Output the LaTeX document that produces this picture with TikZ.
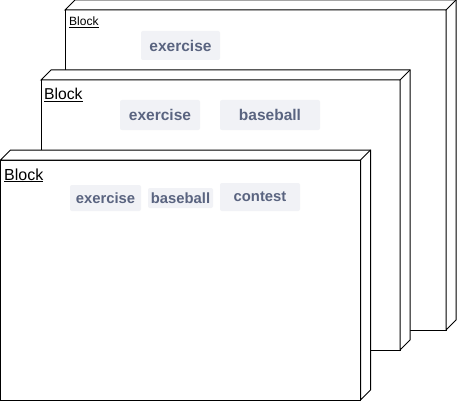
\documentclass[tikz,border=0pt]{standalone}
\usepackage{fontspec}
\setmainfont{Liberation Sans}
\usetikzlibrary{calc}

\definecolor{chipfill}{HTML}{F1F2F6}
\definecolor{chiptext}{HTML}{5A6480}

\tikzset{
  face/.style={draw=black, fill=white, line width=1pt, inner sep=0pt, outer sep=0pt, anchor=north west},
  rim/.style={draw=black, fill=white, line width=1pt, line join=miter},
  chip/.style={fill=chipfill, rounded corners=2pt, text=chiptext, inner sep=0pt,
               font=\bfseries\fontsize{15.5}{16}\selectfont},
  smallchip/.style={chip, font=\bfseries\fontsize{14.8}{16}\selectfont},
  title/.style={anchor=base west, inner sep=0pt, text=black},
}

% a block drawn as a box with depth: front face plus top and right faces
\newcommand\blockbox[5]{% name, x, y, width, height
  \node[face, minimum width=#4pt, minimum height=#5pt] (#1) at (#2,#3) {};
  \draw[rim] (#1.north west) -- ++(10,-10) -- ($(#1.north east)+(10,-10)$)
    -- ($(#1.south east)+(10,-10)$) -- (#1.south east) -- (#1.north east) -- cycle;
  \draw[line width=1pt] (#1.north east) -- ++(10,-10);
}

\begin{document}
\begin{tikzpicture}[x=1pt, y=-1pt]
  \useasboundingbox (0,0) rectangle (457,401);

  % rear block
  \blockbox{back}{65}{10}{381}{320}
  \node[title, font=\fontsize{12}{14}\selectfont] (backtitle) at (69,25.5) {\underline{Block}};
  \node[chip, minimum width=79pt, minimum height=29pt] (backexercise) at (180.5,45.5) {exercise};

  % middle block
  \blockbox{middle}{41}{80}{359}{270}
  \node[title, font=\fontsize{15.7}{18}\selectfont] (middletitle) at (44,99.7) {\underline{Block}};
  \node[chip, minimum width=80pt, minimum height=30pt] (middleexercise) at (160,115) {exercise};
  \node[chip, minimum width=100pt, minimum height=30pt] (middlebaseball) at (270,115) {baseball};

  % front block
  \blockbox{front}{0.5}{160}{360}{240}
  \node[title, font=\fontsize{16}{18}\selectfont] (fronttitle) at (4,180) {\underline{Block}};
  \node[smallchip, minimum width=71pt, minimum height=26pt] (frontexercise) at (105.5,198) {exercise};
  \node[smallchip, minimum width=65pt, minimum height=20pt] (frontbaseball) at (180.5,198) {baseball};
  \node[smallchip, minimum width=80pt, minimum height=28pt] (frontcontest) at (260,197) {contest};
\end{tikzpicture}
\end{document}
